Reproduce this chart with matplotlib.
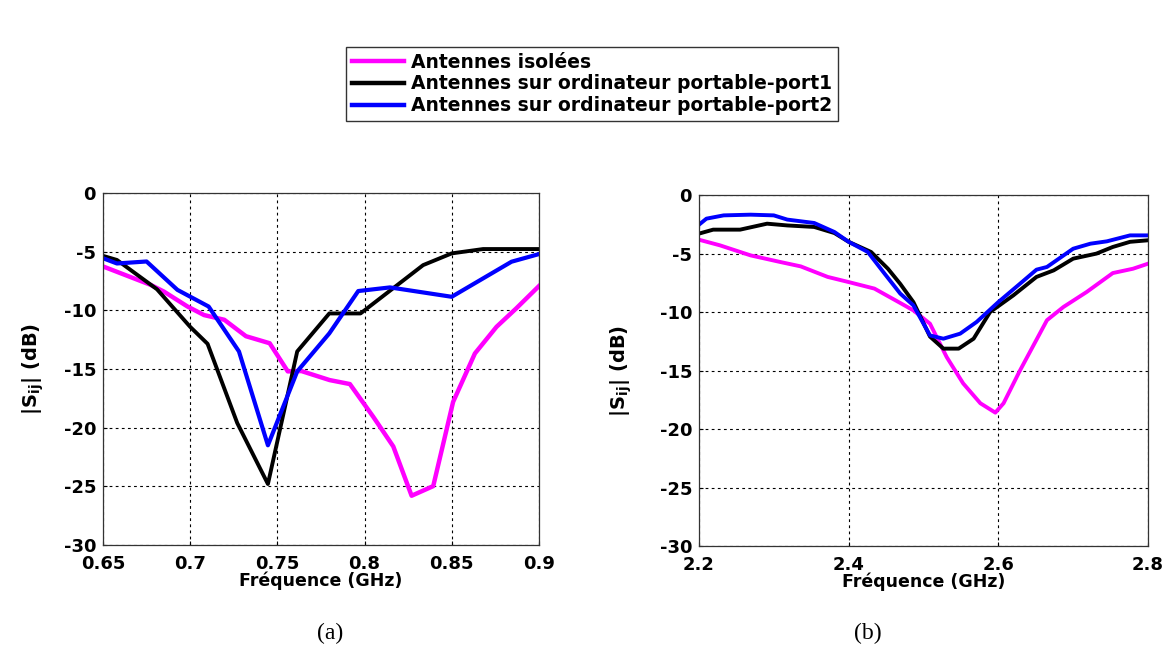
import numpy as np
import matplotlib
matplotlib.use('Agg')
import matplotlib.pyplot as plt

plt.rcParams['font.family'] = ['DejaVu Sans']
plt.rcParams['font.weight'] = 'bold'
plt.rcParams['mathtext.fontset'] = 'custom'
plt.rcParams['mathtext.rm'] = 'DejaVu Sans:bold'
plt.rcParams['mathtext.it'] = 'DejaVu Sans:bold'
plt.rcParams['mathtext.bf'] = 'DejaVu Sans:bold'

# legend labels
labels = ['Antennes isolées',
          'Antennes sur ordinateur portable-port1',
          'Antennes sur ordinateur portable-port2']
colors = ['#FF00FF', '#000000', '#0000FF']

# (a) low band
f_iso_a = [0.65, 0.6773, 0.685, 0.6985, 0.708, 0.7196, 0.732, 0.7456, 0.756, 0.7638,
           0.780, 0.7916, 0.805, 0.8165, 0.827, 0.8394, 0.8508, 0.8633, 0.8757, 0.887, 0.9]
s_iso_a = [-6.25, -7.82, -8.4, -9.67, -10.4, -10.8, -12.2, -12.8, -15.2, -15.17,
           -15.94, -16.28, -19.07, -21.6, -25.8, -24.98, -17.8, -13.67, -11.4, -9.83, -7.93]

f_p1_a = [0.65, 0.658, 0.681, 0.70, 0.710, 0.727, 0.7446, 0.7614, 0.7798, 0.7977,
          0.8336, 0.85, 0.868, 0.9]
s_p1_a = [-5.35, -5.7, -8.2, -11.4, -12.85, -19.6, -24.8, -13.5, -10.26, -10.26,
          -6.14, -5.14, -4.77, -4.77]

f_p2_a = [0.65, 0.658, 0.675, 0.6927, 0.7106, 0.728, 0.7446, 0.7614, 0.7798, 0.7964,
          0.8146, 0.85, 0.8843, 0.9]
s_p2_a = [-5.55, -6.0, -5.83, -8.25, -9.67, -13.5, -21.5, -15.2, -11.96, -8.35,
          -8.04, -8.84, -5.85, -5.2]

# (b) high band
f_iso_b = [2.2, 2.228, 2.269, 2.309, 2.336, 2.372, 2.40, 2.4345, 2.469, 2.4865,
           2.5087, 2.531, 2.553, 2.576, 2.596, 2.607, 2.629, 2.665, 2.687, 2.718,
           2.753, 2.780, 2.8]
s_iso_b = [-3.82, -4.3, -5.16, -5.73, -6.1, -7.0, -7.44, -8.0, -9.23, -9.86,
           -11.0, -13.85, -16.1, -17.8, -18.6, -17.8, -14.99, -10.7, -9.57, -8.29,
           -6.67, -6.3, -5.87]

f_p1_b = [2.2, 2.219, 2.255, 2.291, 2.318, 2.354, 2.381, 2.40, 2.43, 2.4525,
          2.469, 2.4865, 2.5087, 2.5266, 2.547, 2.567, 2.589, 2.62, 2.651, 2.674,
          2.700, 2.731, 2.753, 2.776, 2.8]
s_p1_b = [-3.3, -2.96, -2.96, -2.45, -2.6, -2.73, -3.25, -4.0, -4.87, -6.3,
          -7.6, -9.15, -12.1, -13.13, -13.13, -12.28, -10.0, -8.58, -7.0, -6.44,
          -5.44, -5.01, -4.44, -4.0, -3.87]

f_p2_b = [2.2, 2.21, 2.233, 2.269, 2.30, 2.318, 2.354, 2.381, 2.40, 2.4256,
          2.448, 2.469, 2.4865, 2.5087, 2.5266, 2.549, 2.571, 2.600, 2.629, 2.651,
          2.665, 2.700, 2.723, 2.745, 2.776, 2.8]
s_p2_b = [-2.54, -2.02, -1.74, -1.68, -1.74, -2.1, -2.39, -3.16, -4.0, -4.87,
          -6.72, -8.43, -9.43, -12.0, -12.28, -11.85, -10.85, -9.15, -7.58, -6.38,
          -6.15, -4.59, -4.16, -3.96, -3.45, -3.45]

xticks_a = [0.65, 0.7, 0.75, 0.8, 0.85, 0.9]
xticklabels_a = ['0.65', '0.7', '0.75', '0.8', '0.85', '0.9']
xticks_b = [2.2, 2.4, 2.6, 2.8]
xticklabels_b = ['2.2', '2.4', '2.6', '2.8']
yticks = [0, -5, -10, -15, -20, -25, -30]

fig = plt.figure(figsize=(11.7, 6.64), dpi=100)
ax1 = fig.add_axes([0.088, 0.1792, 0.3726, 0.530])
ax2 = fig.add_axes([0.5974, 0.1777, 0.3838, 0.5286])


def style(ax, xlim, xticks, xticklabels, ylab_x):
    ax.set_xlim(xlim)
    ax.set_ylim(-30, 0)
    ax.set_xticks(xticks)
    ax.set_xticklabels(xticklabels)
    ax.set_yticks(yticks)
    ax.set_yticklabels([str(t) for t in yticks])
    ax.grid(True, color='black', linestyle=(0, (2.5, 3)), linewidth=0.8)
    ax.tick_params(direction='in', length=3, labelsize=13)
    ax.tick_params(axis='x', pad=7)
    ax.tick_params(axis='y', pad=5)
    for lab in ax.get_xticklabels() + ax.get_yticklabels():
        lab.set_fontweight('bold')
    for sp in ax.spines.values():
        sp.set_color('#333333')
        sp.set_linewidth(0.9)
    ax.set_xlabel('Fréquence (GHz)', fontsize=12.5, fontweight='bold', labelpad=-1)
    ax.set_ylabel(r'|S$_{ij}$| (dB)', fontsize=14, fontweight='bold')
    ax.yaxis.set_label_coords(ylab_x, 0.5)


lines = []
for f, s, c, lw in [(f_iso_a, s_iso_a, colors[0], 3.2),
                    (f_p1_a, s_p1_a, colors[1], 2.8),
                    (f_p2_a, s_p2_a, colors[2], 3.0)]:
    l, = ax1.plot(f, s, color=c, linewidth=lw)
    lines.append(l)

for f, s, c in [(f_iso_b, s_iso_b, colors[0]),
                (f_p1_b, s_p1_b, colors[1]),
                (f_p2_b, s_p2_b, colors[2])]:
    ax2.plot(f, s, color=c, linewidth=2.8)

style(ax1, (0.65, 0.9), xticks_a, xticklabels_a, -0.13)
style(ax2, (2.2, 2.8), xticks_b, xticklabels_b, -0.145)

leg = fig.legend(lines, labels, loc='center', bbox_to_anchor=(0.506, 0.8735),
                 fontsize=13.5, frameon=True, fancybox=False, edgecolor='black',
                 handlelength=2.8, handletextpad=0.35, borderpad=0.3,
                 labelspacing=0.15, borderaxespad=0)
leg.get_frame().set_linewidth(1.0)
for t in leg.get_texts():
    t.set_fontweight('bold')
for h in leg.legend_handles:
    h.set_linewidth(3.2)

fig.text(330 / 1170, 1 - 633 / 664, '(a)', fontsize=17, family='Liberation Serif',
         fontweight='normal', ha='center', va='center')
fig.text(868 / 1170, 1 - 633 / 664, '(b)', fontsize=17, family='Liberation Serif',
         fontweight='normal', ha='center', va='center')

fig.savefig('out.png', dpi=100)
